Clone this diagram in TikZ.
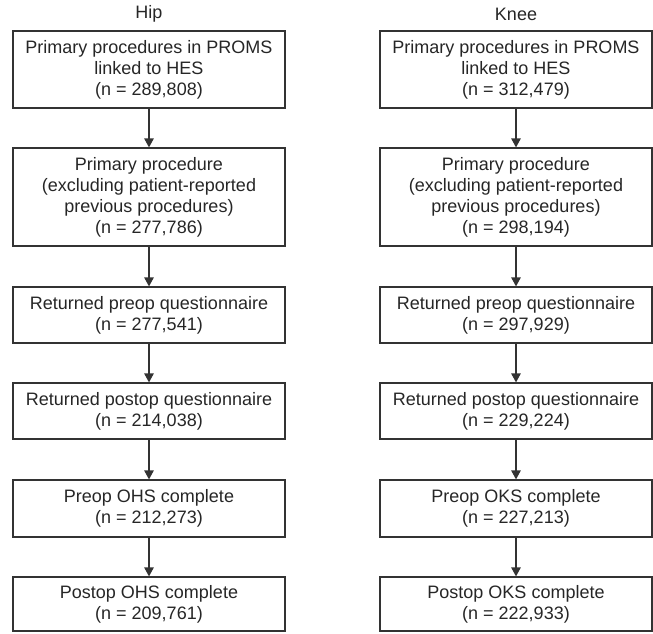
\documentclass[tikz,border=0pt]{standalone}
\usepackage{fontspec}
\setmainfont{Liberation Sans}
\usetikzlibrary{arrows.meta}

\begin{document}
\begin{tikzpicture}[x=1pt,y=-1pt]

      \useasboundingbox (0,0) rectangle (653,634);

      \begin{scope}[every node/.style={text=black!85,font=\fontsize{18}{21}\selectfont}]
        \node (ht) at (149,14) {Hip};
        \node (kt) at (516,14) {Knee};
      \end{scope}

      \begin{scope}[every node/.style={draw=black!80,line width=1.2pt,text=black!85,
          align=center,inner sep=0pt,minimum width=272pt,
          font=\fontsize{18}{21}\selectfont}]
        \node[minimum height=77pt] (h1) at (149,69.5)  {Primary procedures in PROMS\\linked to HES\\(n = 289,808)};
        \node[minimum height=98pt] (h2) at (149,197)   {Primary procedure\\(excluding patient-reported\\previous procedures)\\(n = 277,786)};
        \node[minimum height=56pt] (h3) at (149,315)   {Returned preop questionnaire\\(n = 277,541)};
        \node[minimum height=56pt] (h4) at (149,411)   {Returned postop questionnaire\\(n = 214,038)};
        \node[minimum height=57pt] (h5) at (149,508.5) {Preop OHS complete\\(n = 212,273)};
        \node[minimum height=54pt] (h6) at (149,604)   {Postop OHS complete\\(n = 209,761)};

        \node[minimum height=77pt] (k1) at (516,69.5)  {Primary procedures in PROMS\\linked to HES\\(n = 312,479)};
        \node[minimum height=98pt] (k2) at (516,197)   {Primary procedure\\(excluding patient-reported\\previous procedures)\\(n = 298,194)};
        \node[minimum height=56pt] (k3) at (516,315)   {Returned preop questionnaire\\(n = 297,929)};
        \node[minimum height=56pt] (k4) at (516,411)   {Returned postop questionnaire\\(n = 229,224)};
        \node[minimum height=57pt] (k5) at (516,508.5) {Preop OKS complete\\(n = 227,213)};
        \node[minimum height=54pt] (k6) at (516,604)   {Postop OKS complete\\(n = 222,933)};
      \end{scope}

      \begin{scope}[every edge/.style={draw=black!80,line width=1.2pt,
          -{Triangle[length=9pt,width=9.5pt]}}]
        \path (h1) edge (h2);
        \path (h2) edge (h3);
        \path (h3) edge (h4);
        \path (h4) edge (h5);
        \path (h5) edge (h6);
        \path (k1) edge (k2);
        \path (k2) edge (k3);
        \path (k3) edge (k4);
        \path (k4) edge (k5);
        \path (k5) edge (k6);
      \end{scope}

    \end{tikzpicture}
\end{document}
